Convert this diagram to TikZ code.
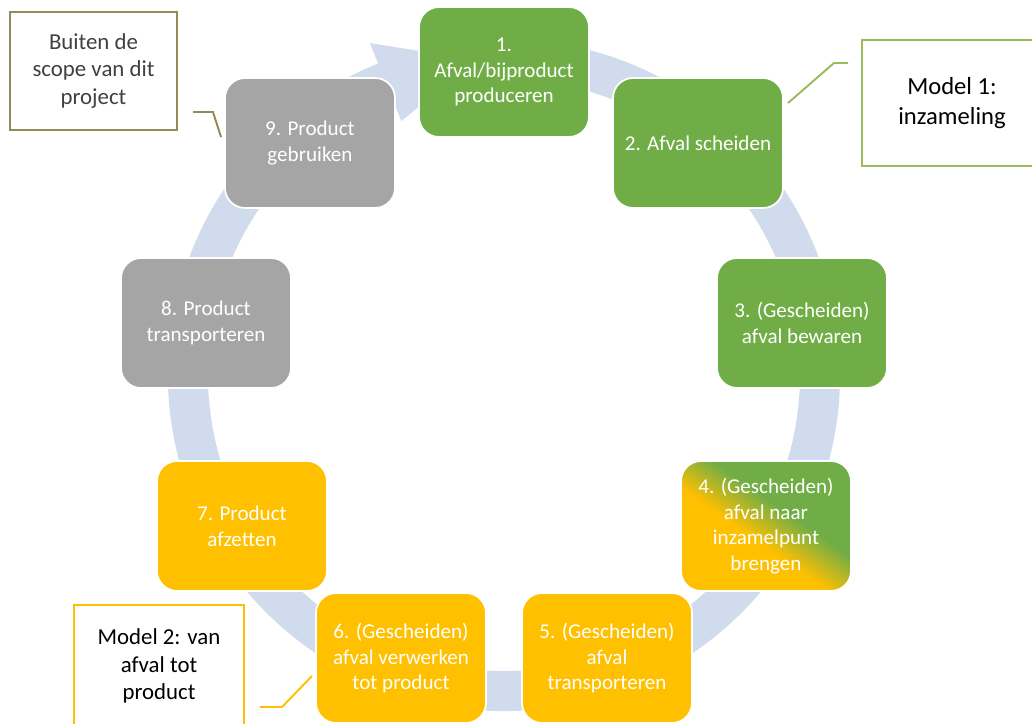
\documentclass[tikz,border=0pt]{standalone}
\usepackage{fontspec}
\setmainfont{Carlito}

\definecolor{stepgreen}{HTML}{70AD47}
\definecolor{stepgold}{HTML}{FFC000}
\definecolor{stepgray}{HTML}{A5A5A5}
\definecolor{ringblue}{HTML}{D0DBEE}
\definecolor{notegreen}{HTML}{9BBB59}
\definecolor{noteolive}{HTML}{948A54}
\definecolor{notetext}{HTML}{404040}
\pgfdeclarehorizontalshading{goldtogreen}{100bp}{color(0bp)=(stepgold); color(44bp)=(stepgold); color(58bp)=(stepgreen); color(100bp)=(stepgreen)}

\begin{document}
\begin{tikzpicture}[x=0.02cm, y=0.02cm,
  stepbox/.style={rounded corners=0.4cm, minimum width=3.4cm, minimum height=2.6cm,
    draw=white, line width=1pt, text=white, align=center, inner sep=2pt,
    font=\fontsize{12}{14.6}\selectfont},
  note/.style={draw, line width=1.2pt, fill=white, align=center, inner sep=2pt,
    font=\fontsize{13}{15.5}\selectfont},
  lead/.style={line width=1.1pt}]
  \useasboundingbox (0,0) rectangle (1032,724);

  % circular band behind the steps
  \begin{scope}[shift={(504,349)}]
    \fill[ringblue] (80:296) arc[start angle=80, end angle=-248, radius=296]
      -- (-248:274) -- (-265:316) -- (-248:358) -- (-248:336)
      arc[start angle=-248, end angle=80, radius=336] -- cycle;
  \end{scope}

  % steps
  \node[stepbox, fill=stepgreen] (s1) at (504,652) {1.\\Afval/bijproduct\\produceren};
  \node[stepbox, fill=stepgreen] (s2) at (698,581) {2. Afval scheiden};
  \node[stepbox, fill=stepgreen] (s3) at (802,401) {3. (Gescheiden)\\afval bewaren};
  \node[stepbox, shading=goldtogreen, shading angle=55] (s4) at (766,198) {4. (Gescheiden)\\afval naar\\inzamelpunt\\brengen};
  \node[stepbox, fill=stepgold] (s5) at (607,66) {5. (Gescheiden)\\afval\\transporteren};
  \node[stepbox, fill=stepgold] (s6) at (401,66) {6. (Gescheiden)\\afval verwerken\\tot product};
  \node[stepbox, fill=stepgold] (s7) at (242,198) {7. Product\\afzetten};
  \node[stepbox, fill=stepgray] (s8) at (206,401) {8. Product\\transporteren};
  \node[stepbox, fill=stepgray] (s9) at (310,581) {9. Product\\gebruiken};

  % notes
  \node[note, draw=notegreen, minimum width=3.6cm, minimum height=2.52cm,
    font=\fontsize{14}{17}\selectfont] (model1) at (952,621) {Model 1:\\inzameling};
  \node[note, draw=noteolive, text=notetext, minimum width=3.34cm, minimum height=2.36cm]
    (scope) at (93.5,653) {Buiten de\\scope van dit\\project};
  \node[note, draw=stepgold, minimum width=3.4cm, minimum height=2.44cm]
    (model2) at (159,58) {Model 2: van\\afval tot\\product};

  % leader lines
  \coordinate (m1end) at (848,661);
  \coordinate (m1bend) at (834,661);
  \coordinate (m1tip) at (788,621);
  \draw[lead, notegreen] (m1end) -- (m1bend) -- (m1tip);
  \coordinate (scend) at (193,612);
  \coordinate (scbend) at (213,612);
  \coordinate (sctip) at (221,587);
  \draw[lead, noteolive] (scend) -- (scbend) -- (sctip);
  \coordinate (m2end) at (260,17);
  \coordinate (m2bend) at (282,17);
  \coordinate (m2tip) at (312,48);
  \draw[lead, stepgold] (m2end) -- (m2bend) -- (m2tip);
\end{tikzpicture}
\end{document}
